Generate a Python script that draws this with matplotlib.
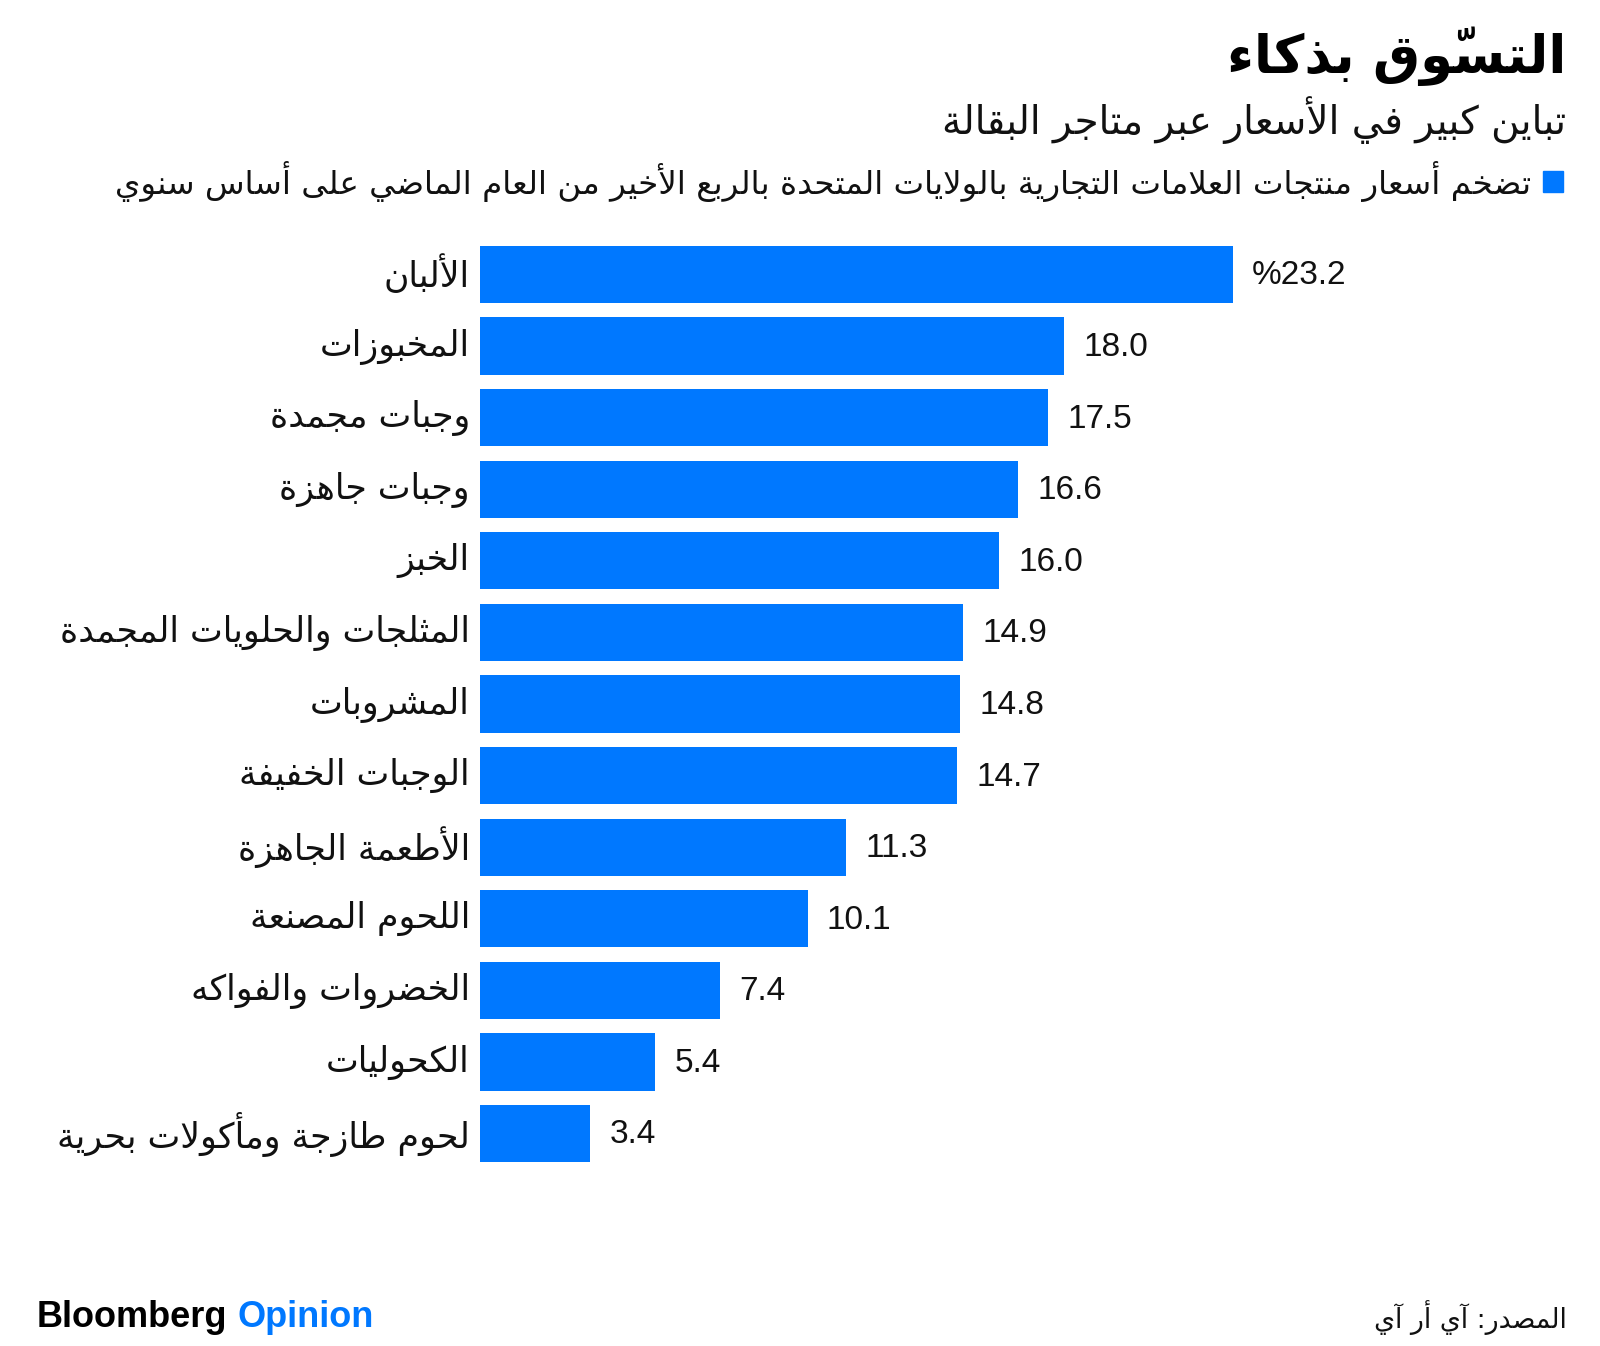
import matplotlib
matplotlib.use('Agg')
import matplotlib.pyplot as plt
from matplotlib.transforms import ScaledTranslation

# data
categories = ['الألبان', 'المخبوزات', 'وجبات مجمدة', 'وجبات جاهزة', 'الخبز',
              'المثلجات والحلويات المجمدة', 'المشروبات', 'الوجبات الخفيفة',
              'الأطعمة الجاهزة', 'اللحوم المصنعة', 'الخضروات والفواكه',
              'الكحوليات', 'لحوم طازجة ومأكولات بحرية']
values = [23.2, 18.0, 17.5, 16.6, 16.0, 14.9, 14.8, 14.7, 11.3, 10.1, 7.4, 5.4, 3.4]

title = 'التسوّق بذكاء'
subtitle = 'تباين كبير في الأسعار عبر متاجر البقالة'
legend_text = 'تضخم أسعار منتجات العلامات التجارية بالولايات المتحدة بالربع الأخير من العام الماضي على أساس سنوي'
source = 'المصدر: آي أر آي'

BLUE = '#0078ff'

# --- minimal arabic shaping (matplotlib has no shaping / bidi) ---
FORMS = {
    'ء': (0xFE80, 1), 'آ': (0xFE81, 2), 'أ': (0xFE83, 2), 'ؤ': (0xFE85, 2),
    'إ': (0xFE87, 2), 'ئ': (0xFE89, 4), 'ا': (0xFE8D, 2), 'ب': (0xFE8F, 4),
    'ة': (0xFE93, 2), 'ت': (0xFE95, 4), 'ث': (0xFE99, 4), 'ج': (0xFE9D, 4),
    'ح': (0xFEA1, 4), 'خ': (0xFEA5, 4), 'د': (0xFEA9, 2), 'ذ': (0xFEAB, 2),
    'ر': (0xFEAD, 2), 'ز': (0xFEAF, 2), 'س': (0xFEB1, 4), 'ش': (0xFEB5, 4),
    'ص': (0xFEB9, 4), 'ض': (0xFEBD, 4), 'ط': (0xFEC1, 4), 'ظ': (0xFEC5, 4),
    'ع': (0xFEC9, 4), 'غ': (0xFECD, 4), 'ف': (0xFED1, 4), 'ق': (0xFED5, 4),
    'ك': (0xFED9, 4), 'ل': (0xFEDD, 4), 'م': (0xFEE1, 4), 'ن': (0xFEE5, 4),
    'ه': (0xFEE9, 4), 'و': (0xFEED, 2), 'ى': (0xFEEF, 2), 'ي': (0xFEF1, 4),
}
LAMALEF = {'آ': 0xFEF5, 'أ': 0xFEF7, 'إ': 0xFEF9, 'ا': 0xFEFB}
MARKS = set(chr(c) for c in range(0x064B, 0x0653))


def shape(s):
    # clusters: [base, marks, n_forms, isolated code]
    cl = []
    i = 0
    while i < len(s):
        ch = s[i]
        if ch in MARKS and cl:
            cl[-1][1] += ch
            i += 1
            continue
        if ch == 'ل' and i + 1 < len(s) and s[i + 1] in LAMALEF:
            cl.append([ch, '', 2, LAMALEF[s[i + 1]]])
            i += 2
            continue
        if ch in FORMS:
            code, n = FORMS[ch]
            cl.append([ch, '', n, code])
        else:
            cl.append([ch, '', 0, None])
        i += 1
    out = []
    for k, (ch, marks, n, code) in enumerate(cl):
        if code is None:
            out.append(ch + marks)
            continue
        prev_ok = k > 0 and cl[k - 1][2] == 4 and n >= 2
        next_ok = n == 4 and k + 1 < len(cl) and cl[k + 1][2] >= 2
        if prev_ok and next_ok:
            g = code + 3
        elif prev_ok:
            g = code + 1
        elif next_ok:
            g = code + 2
        else:
            g = code
        out.append(chr(g) + marks)
    return ''.join(out[::-1])


AR = ['DejaVu Sans']
NUM = ['Liberation Sans', 'DejaVu Sans']

fig = plt.figure(figsize=(16, 13.46), dpi=100)
ax = fig.add_axes([0.2998, 0.1312, 0.6086, 0.6915])

y = list(range(len(values)))
ax.barh(y, values, height=0.8, color=BLUE)
ax.set_xlim(0, 30)
ax.set_ylim(len(values) - 0.5, -0.5)
ax.set_yticks(y)
ax.set_yticklabels([shape(c) for c in categories], family=AR, fontsize=25, color='#111111')
ax.tick_params(axis='y', length=0, pad=7)
ax.set_xticks([])
for sp in ax.spines.values():
    sp.set_visible(False)
# nudge arabic labels up a little so they sit centred on the bars
shift = ScaledTranslation(0, 4 / 100, fig.dpi_scale_trans)
for lab in ax.get_yticklabels():
    lab.set_transform(lab.get_transform() + shift)

for i, v in enumerate(values):
    lab = '%' + f'{v:.1f}' if i == 0 else f'{v:.1f}'
    ax.annotate(lab, (v, i), xytext=(14, -1), textcoords='offset points',
                ha='left', va='center', fontsize=24, family=NUM, color='#111111')

fig.text(0.979, 0.958, shape(title), ha='right', va='center', fontsize=38,
         fontweight='bold', family=AR, color='#000000')
fig.text(0.979, 0.911, shape(subtitle), ha='right', va='center', fontsize=28,
         family=AR, color='#111111')
fig.text(0.957, 0.865, shape(legend_text), ha='right', va='center', fontsize=23.4,
         family=AR, color='#111111')
fig.patches.append(plt.Rectangle((0.9644, 0.8574), 0.0125, 0.0156, transform=fig.transFigure,
                                 color=BLUE))

fig.text(0.023, 0.021, 'Bloomberg', ha='left', va='center', fontsize=26,
         fontweight='bold', family=NUM, color='#000000')
fig.text(0.1487, 0.021, 'Opinion', ha='left', va='center', fontsize=26,
         fontweight='bold', family=NUM, color=BLUE)
fig.text(0.979, 0.021, shape(source), ha='right', va='center', fontsize=19.3,
         family=AR, color='#111111')

fig.savefig('out.png', dpi=100)
